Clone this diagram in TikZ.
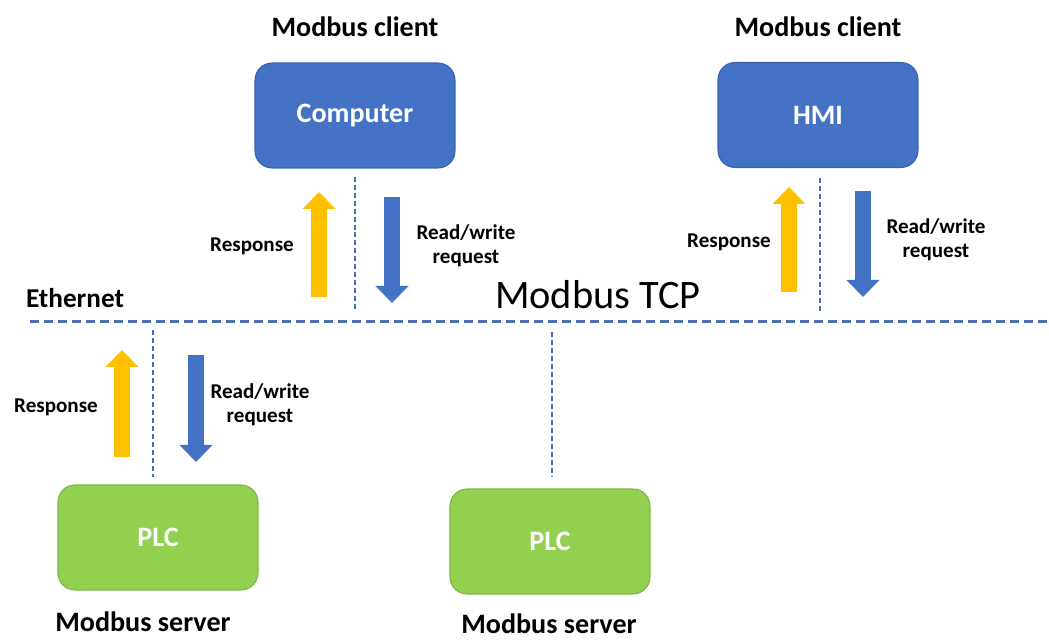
\documentclass[tikz,border=0pt]{standalone}
\usepackage{fontspec}
\setmainfont{Carlito}
\usetikzlibrary{arrows.meta}
\definecolor{boxblue}{HTML}{4472C4}
\definecolor{blueedge}{HTML}{3A62AE}
\definecolor{plcgreen}{HTML}{92D050}
\definecolor{greenedge}{HTML}{7AB648}
\definecolor{rspyellow}{HTML}{FFC000}
\definecolor{dashblue}{HTML}{4A6FB5}

\begin{document}
\begin{tikzpicture}[x=0.02cm, y=-0.02cm,
    client/.style={draw=blueedge, fill=boxblue, line width=0.6pt, rounded corners=0.34cm,
      minimum width=4cm, minimum height=2.1cm, text=white, font=\bfseries\fontsize{16}{19}\selectfont},
    server/.style={client, draw=greenedge, fill=plcgreen},
    role/.style={font=\bfseries\fontsize{16}{19}\selectfont},
    msg/.style={font=\bfseries\fontsize{12}{13.5}\selectfont, align=center},
    rsp/.style={draw=rspyellow, line width=0.32cm, -{Triangle[width=0.64cm, length=0.34cm]}},
    req/.style={rsp, draw=boxblue},
    bus/.style={draw=dashblue, line width=0.06cm, dash pattern=on 0.19cm off 0.09cm},
    drop/.style={draw=dashblue, line width=0.035cm, dash pattern=on 0.1cm off 0.06cm}]
        \useasboundingbox (0, 0) rectangle (1049, 641);
        % clients
        \node[role] (clientC) at (355, 27) {Modbus client};
        \node[role] (clientH) at (818, 27) {Modbus client};
        \node[client] (comp) at (355, 115.5) {Computer};
        \node[client] (hmi) at (818, 115) {HMI};
        % servers
        \node[server] (plcA) at (158, 537.5) {PLC};
        \node[server] (plcB) at (550, 541.5) {PLC};
        \node[role] (serverA) at (143, 622) {Modbus server};
        \node[role] (serverB) at (549, 624) {Modbus server};
        % ethernet
        \coordinate (busL) at (30, 322);
        \coordinate (busR) at (1049, 322);
        \draw[bus] (busL) -- (busR);
        \node[font=\bfseries\fontsize{15.5}{18}\selectfont] (eth) at (75, 298) {Ethernet};
        \node[font=\fontsize{23}{27}\selectfont] (tcp) at (598, 295) {Modbus TCP};
        \coordinate (tapC) at (355, 322);
        \coordinate (tapH) at (820, 322);
        \coordinate (tapA) at (153, 322);
        \coordinate (tapB) at (552, 322);
        \draw[drop, shorten <=0.16cm, shorten >=0.2cm] (tapC |- comp.south) -- (tapC);
        \draw[drop, shorten <=0.2cm, shorten >=0.2cm] (tapH |- hmi.south) -- (tapH);
        \draw[drop, shorten <=0.16cm, shorten >=0.14cm] (tapA) -- (tapA |- plcA.north);
        \draw[drop, shorten <=0.2cm, shorten >=0.22cm] (tapB) -- (tapB |- plcB.north);
        % messages
        \coordinate (rspC) at (319, 297);
        \coordinate (reqC) at (392, 197);
        \coordinate (rspH) at (789, 292);
        \coordinate (reqH) at (863, 191);
        \coordinate (rspA) at (122, 457);
        \coordinate (reqA) at (196, 355);
        \draw[rsp] (rspC) -- ++(0, -105);
        \draw[req] (reqC) -- ++(0, 106);
        \draw[rsp] (rspH) -- ++(0, -105);
        \draw[req] (reqH) -- ++(0, 106);
        \draw[rsp] (rspA) -- ++(0, -107);
        \draw[req] (reqA) -- ++(0, 107);
        \node[msg] (rspCtxt) at (252, 246) {Response};
        \node[msg] (reqCtxt) at (466, 246) {Read/write\\request};
        \node[msg] (rspHtxt) at (729, 242) {Response};
        \node[msg] (reqHtxt) at (936, 240) {Read/write\\request};
        \node[msg] (rspAtxt) at (56, 407) {Response};
        \node[msg] (reqAtxt) at (260, 405) {Read/write\\request};
\end{tikzpicture}
\end{document}
